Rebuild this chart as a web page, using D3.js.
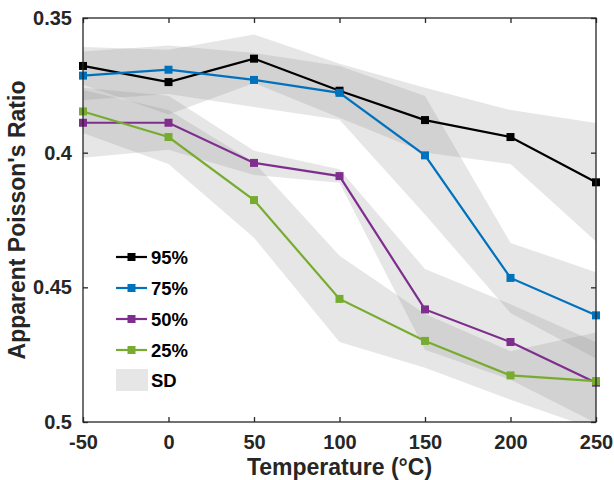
<!DOCTYPE html>
<html>
<head>
<meta charset="utf-8">
<script src="https://cdn.jsdelivr.net/npm/d3@7"></script>
<style>
  html, body { margin: 0; padding: 0; background: #fff; }
  svg { display: block; font-family: "Liberation Sans", Arial, sans-serif; }
</style>
</head>
<body>
<svg id="chart" width="614" height="480"></svg>
<script>
// Temperatures (°C)
const temps = [-50, 0, 50, 100, 150, 200, 250];

// Mean apparent Poisson's ratio for each relative density
const r95 = [0.3678, 0.3738, 0.3651, 0.3770, 0.3879, 0.3942, 0.4110];
const r75 = [0.3714, 0.3692, 0.3730, 0.3778, 0.4010, 0.4465, 0.4604];
const r50 = [0.3889, 0.3889, 0.4038, 0.4087, 0.4582, 0.4703, 0.4854];
const r25 = [0.3847, 0.3942, 0.4176, 0.4543, 0.4699, 0.4827, 0.4848];

// Standard deviations
const sd95 = [0.007, 0.012, 0.009, 0.010, 0.012, 0.010, 0.022];
const sd75 = [0.009, 0.009, 0.010, 0.010, 0.022, 0.013, 0.016];
const sd50 = [0.013, 0.010, 0.0045, 0.0025, 0.015, 0.014, 0.015];
const sd25 = [0.008, 0.010, 0.014, 0.016, 0.010, 0.009, 0.018];

const seriesNames = ["95%", "75%", "50%", "25%"];
const seriesColors = ["#000000", "#0072BD", "#7E2F8E", "#77AC30"];

const xTicks = [-50, 0, 50, 100, 150, 200, 250];
const xTickLabels = ["-50", "0", "50", "100", "150", "200", "250"];
const yTicks = [0.35, 0.4, 0.45, 0.5];
const yTickLabels = ["0.35", "0.4", "0.45", "0.5"];

const series = [
  { name: seriesNames[0], color: seriesColors[0], mean: r95, sd: sd95 },
  { name: seriesNames[1], color: seriesColors[1], mean: r75, sd: sd75 },
  { name: seriesNames[2], color: seriesColors[2], mean: r50, sd: sd50 },
  { name: seriesNames[3], color: seriesColors[3], mean: r25, sd: sd25 }
];

const svg = d3.select("#chart");
const L = 83, R = 596, T = 18, B = 422;

const x = d3.scaleLinear().domain([-50, 250]).range([L, R]);
// reversed axis: smaller ratio at the top
const y = d3.scaleLinear().domain([0.35, 0.5]).range([T, B]);

const axisColor = "#262626";

svg.append("defs").append("clipPath").attr("id", "plotClip")
  .append("rect").attr("x", L).attr("y", T).attr("width", R - L).attr("height", B - T);

const plot = svg.append("g").attr("clip-path", "url(#plotClip)");

// SD bands
const band = d3.area()
  .x((d, i) => x(temps[i]))
  .y0(d => y(d.m - d.s))
  .y1(d => y(d.m + d.s));

series.forEach(s => {
  const pts = s.mean.map((m, i) => ({ m: m, s: s.sd[i] }));
  plot.append("path")
    .datum(pts)
    .attr("d", band)
    .attr("fill", "#808080")
    .attr("fill-opacity", 0.2)
    .attr("stroke", "none");
});

// Mean lines with square markers
const line = d3.line().x((d, i) => x(temps[i])).y(d => y(d));
const ms = 8;
series.forEach(s => {
  svg.append("path")
    .datum(s.mean)
    .attr("d", line)
    .attr("fill", "none")
    .attr("stroke", s.color)
    .attr("stroke-width", 2.2);
  svg.append("g").selectAll("rect")
    .data(s.mean)
    .join("rect")
    .attr("x", (d, i) => x(temps[i]) - ms / 2)
    .attr("y", d => y(d) - ms / 2)
    .attr("width", ms)
    .attr("height", ms)
    .attr("fill", s.color);
});

// Axes box and inward ticks
const tickLen = 5;
const frame = svg.append("g").attr("stroke", axisColor).attr("stroke-width", 1.3).attr("fill", "none");
frame.append("rect").attr("x", L).attr("y", T).attr("width", R - L).attr("height", B - T);

const xAxisB = d3.axisBottom(x).tickValues(xTicks).tickSizeInner(-tickLen).tickSizeOuter(0).tickPadding(13)
  .tickFormat((d, i) => xTickLabels[i]);
const gx = svg.append("g").attr("transform", `translate(0,${B})`).call(xAxisB);
const xAxisT = d3.axisTop(x).tickValues(xTicks).tickSizeInner(-tickLen).tickSizeOuter(0).tickFormat("");
const gxt = svg.append("g").attr("transform", `translate(0,${T})`).call(xAxisT);
const yAxisL = d3.axisLeft(y).tickValues(yTicks).tickSizeInner(-tickLen).tickSizeOuter(0)
  .tickFormat((d, i) => yTickLabels[i]).tickPadding(11);
const gy = svg.append("g").attr("transform", `translate(${L},0)`).call(yAxisL);
const yAxisR = d3.axisRight(y).tickValues(yTicks).tickSizeInner(-tickLen).tickSizeOuter(0).tickFormat("");
const gyr = svg.append("g").attr("transform", `translate(${R},0)`).call(yAxisR);

[gx, gxt, gy, gyr].forEach(g => {
  g.select(".domain").remove();
  g.selectAll(".tick line").attr("stroke", axisColor).attr("stroke-width", 1.3);
  g.selectAll(".tick text")
    .attr("fill", axisColor)
    .attr("font-size", 20)
    .attr("font-weight", "bold")
    .attr("font-family", "Liberation Sans, Arial, sans-serif");
});

// Axis titles
svg.append("text")
  .attr("x", (L + R) / 2).attr("y", 475)
  .attr("text-anchor", "middle")
  .attr("font-size", 23).attr("font-weight", "bold").attr("fill", axisColor)
  .text("Temperature (°C)");

svg.append("text")
  .attr("transform", `translate(25,${(T + B) / 2}) rotate(-90)`)
  .attr("text-anchor", "middle")
  .attr("font-size", 23).attr("font-weight", "bold").attr("fill", axisColor)
  .text("Apparent Poisson's Ratio");

// Legend
const lg = svg.append("g");
const rowY = [257, 288, 319, 350];
series.forEach((s, i) => {
  lg.append("line").attr("x1", 116).attr("x2", 147).attr("y1", rowY[i]).attr("y2", rowY[i])
    .attr("stroke", s.color).attr("stroke-width", 2.2);
  lg.append("rect").attr("x", 131.5 - ms / 2).attr("y", rowY[i] - ms / 2).attr("width", ms).attr("height", ms)
    .attr("fill", s.color);
  lg.append("text").attr("x", 151).attr("y", rowY[i] + 7)
    .attr("font-size", 18.5).attr("font-weight", "bold").attr("fill", "#000")
    .text(s.name);
});
lg.append("rect").attr("x", 116).attr("y", 369).attr("width", 32).attr("height", 22)
  .attr("fill", "#808080").attr("fill-opacity", 0.2);
lg.append("text").attr("x", 151).attr("y", 387)
  .attr("font-size", 18.5).attr("font-weight", "bold").attr("fill", "#000")
  .text("SD");
</script>
</body>
</html>
